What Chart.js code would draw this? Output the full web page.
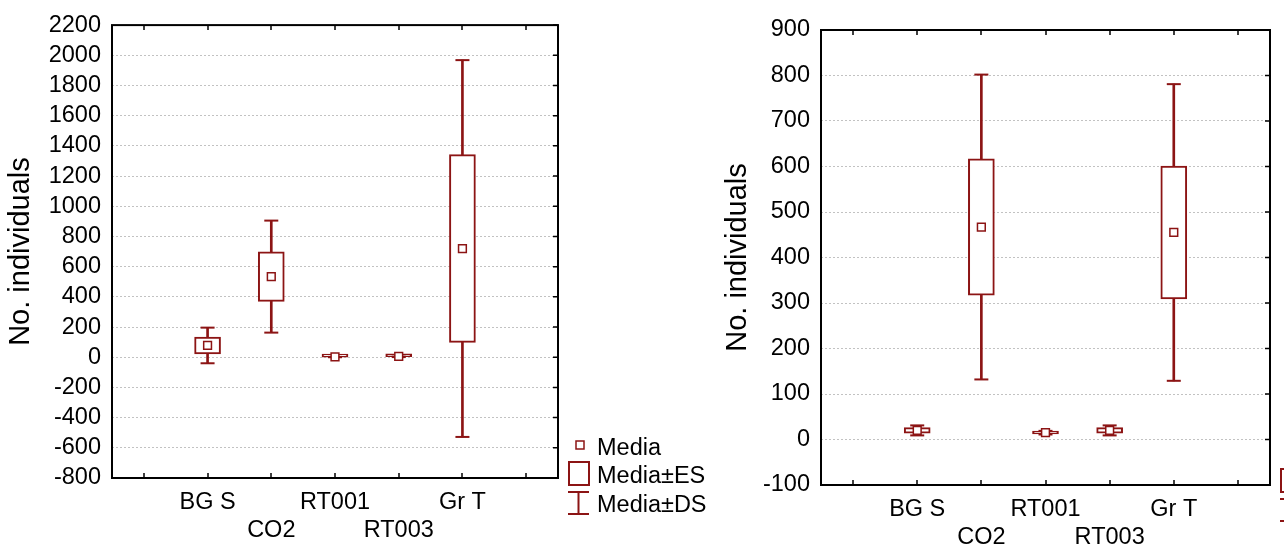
<!DOCTYPE html>
<html>
<head>
<meta charset="utf-8">
<script src="https://cdn.jsdelivr.net/npm/chart.js@4"></script>
<style>
  body { margin: 0; background: #fff; }
  canvas { position: absolute; top: 0; }
  #left { left: 0; }
  #right { left: 720px; }
</style>
</head>
<body>
<canvas id="left" width="720" height="547"></canvas>
<canvas id="right" width="564" height="547"></canvas>
<script>
// categories, alternate ones go on the second label row
const categories = ['BG S', 'CO2', 'RT001', 'RT003', 'Gr T'];
const labelRow = [0, 1, 0, 1, 0];

// left panel
const meanA = [78, 534, 2, 6, 720];
const seA = [56, 164, 1, 3, 622];
const sdA = [118, 371, 2, 5, 1248];

// right panel
const meanB = [20, 467, 15, 20, 455];
const seB = [6, 150, 3, 6, 146];
const sdB = [11, 335, 4, 11, 326];

const legendLabels = ['Media', 'Media\u00b1ES', 'Media\u00b1DS'];
const yTitle = 'No. individuals';

const RED = '#8c1414';
const FONT = "'Liberation Sans', Arial, sans-serif";
const TICK_SIZE = 23.5;
Chart.defaults.font.family = FONT;

// frame, inward ticks and the legend
const framePlugin = {
    id: 'frame',
    afterDraw(chart) {
        const ctx = chart.ctx;
        const a = chart.chartArea;
        const x = chart.scales.x, y = chart.scales.y;
        ctx.save();
        ctx.strokeStyle = '#000';
        ctx.lineWidth = 1.5;
        ctx.beginPath();
        x.ticks.forEach((t, i) => {
            const px = Math.round(x.getPixelForTick(i));
            ctx.moveTo(px, a.bottom); ctx.lineTo(px, a.bottom - 5);
            ctx.moveTo(px, a.top); ctx.lineTo(px, a.top + 5);
        });
        y.ticks.forEach((t, i) => {
            const py = y.getPixelForTick(i);
            ctx.moveTo(a.right, py); ctx.lineTo(a.right - 5, py);
        });
        ctx.stroke();
        ctx.lineWidth = 2;
        ctx.strokeRect(a.left, a.top, a.right - a.left, a.bottom - a.top);

        // legend
        const lx = a.right, by = a.bottom;
        ctx.strokeStyle = RED;
        ctx.lineWidth = 1.5;
        ctx.strokeRect(lx + 18, by - 37, 8, 8);
        ctx.lineWidth = 2;
        ctx.strokeRect(lx + 11, by - 16, 20, 23);
        ctx.beginPath();
        ctx.moveTo(lx + 10, by + 14); ctx.lineTo(lx + 31, by + 14);
        ctx.moveTo(lx + 20.5, by + 14); ctx.lineTo(lx + 20.5, by + 36);
        ctx.moveTo(lx + 10, by + 36); ctx.lineTo(lx + 31, by + 36);
        ctx.stroke();
        ctx.fillStyle = '#000';
        ctx.font = TICK_SIZE + 'px ' + FONT;
        ctx.textBaseline = 'alphabetic';
        ctx.fillText(legendLabels[0], lx + 39, by - 23);
        ctx.fillText(legendLabels[1], lx + 39, by + 5);
        ctx.fillText(legendLabels[2], lx + 39, by + 34);
        ctx.restore();
    }
};

function boxChart(id, mean, se, sd, cfg) {
    const pad = arr => [null, ...arr, null];
    const labels = ['', ...categories.map((c, i) => labelRow[i] ? ['', c] : c), ''];
    const tickFont = { family: FONT, size: TICK_SIZE, lineHeight: 1.2 };

    return new Chart(document.getElementById(id), {
        type: 'bar',
        data: {
            labels: labels,
            datasets: [
                {
                    type: 'line', label: 'Media', data: pad(mean), showLine: false,
                    pointStyle: 'rect', pointRadius: 5.5, pointBackgroundColor: '#fff',
                    borderColor: RED, pointBorderWidth: 1.5, order: 0
                },
                {
                    label: 'Media±ES', data: pad(mean.map((m, i) => [m - se[i], m + se[i]])),
                    backgroundColor: '#fff', borderColor: RED, borderWidth: 2, borderSkipped: false,
                    barThickness: 26, minBarLength: 3, grouped: false, order: 1
                },
                {
                    type: 'line', label: 'DS top', data: pad(mean.map((m, i) => m + sd[i])), showLine: false,
                    pointStyle: 'line', pointRadius: 7, pointBorderWidth: 2, borderColor: RED, order: 2
                },
                {
                    type: 'line', label: 'DS bottom', data: pad(mean.map((m, i) => m - sd[i])), showLine: false,
                    pointStyle: 'line', pointRadius: 7, pointBorderWidth: 2, borderColor: RED, order: 2
                },
                {
                    label: 'Media±DS', data: pad(mean.map((m, i) => [m - sd[i], m + sd[i]])),
                    backgroundColor: RED, borderWidth: 0, barThickness: 2, grouped: false, order: 3
                }
            ]
        },
        options: {
            responsive: false,
            animation: false,
            events: [],
            layout: { padding: { top: cfg.top, right: cfg.right, left: 0, bottom: 0 } },
            plugins: { legend: { display: false }, tooltip: { enabled: false } },
            scales: {
                x: {
                    grid: { display: false, drawTicks: false },
                    border: { display: false },
                    ticks: { color: '#000', font: tickFont, padding: 10, maxRotation: 0, autoSkip: false },
                    afterFit: s => { s.height = cfg.xHeight; }
                },
                y: {
                    min: cfg.min, max: cfg.max,
                    ticks: {
                        stepSize: cfg.step, color: '#000', font: tickFont, padding: 11, autoSkip: false,
                        callback: v => String(v)
                    },
                    grid: { color: '#c2c2c2', lineWidth: 1, drawTicks: false },
                    border: { display: false, dash: [2, 2] },
                    title: {
                        display: true, text: yTitle, color: '#000',
                        font: { family: FONT, size: 29 }, padding: { top: cfg.titlePad, bottom: 0 }
                    },
                    afterFit: s => { s.width = cfg.yWidth; }
                }
            }
        },
        plugins: [framePlugin]
    });
}

boxChart('left', meanA, seA, sdA, {
    min: -800, max: 2200, step: 200,
    top: 22, right: 162, xHeight: 69, yWidth: 112, titlePad: 4
});

boxChart('right', meanB, seB, sdB, {
    min: -100, max: 900, step: 100,
    top: 30, right: 14, xHeight: 62, yWidth: 101, titlePad: 1
});
</script>
</body>
</html>
